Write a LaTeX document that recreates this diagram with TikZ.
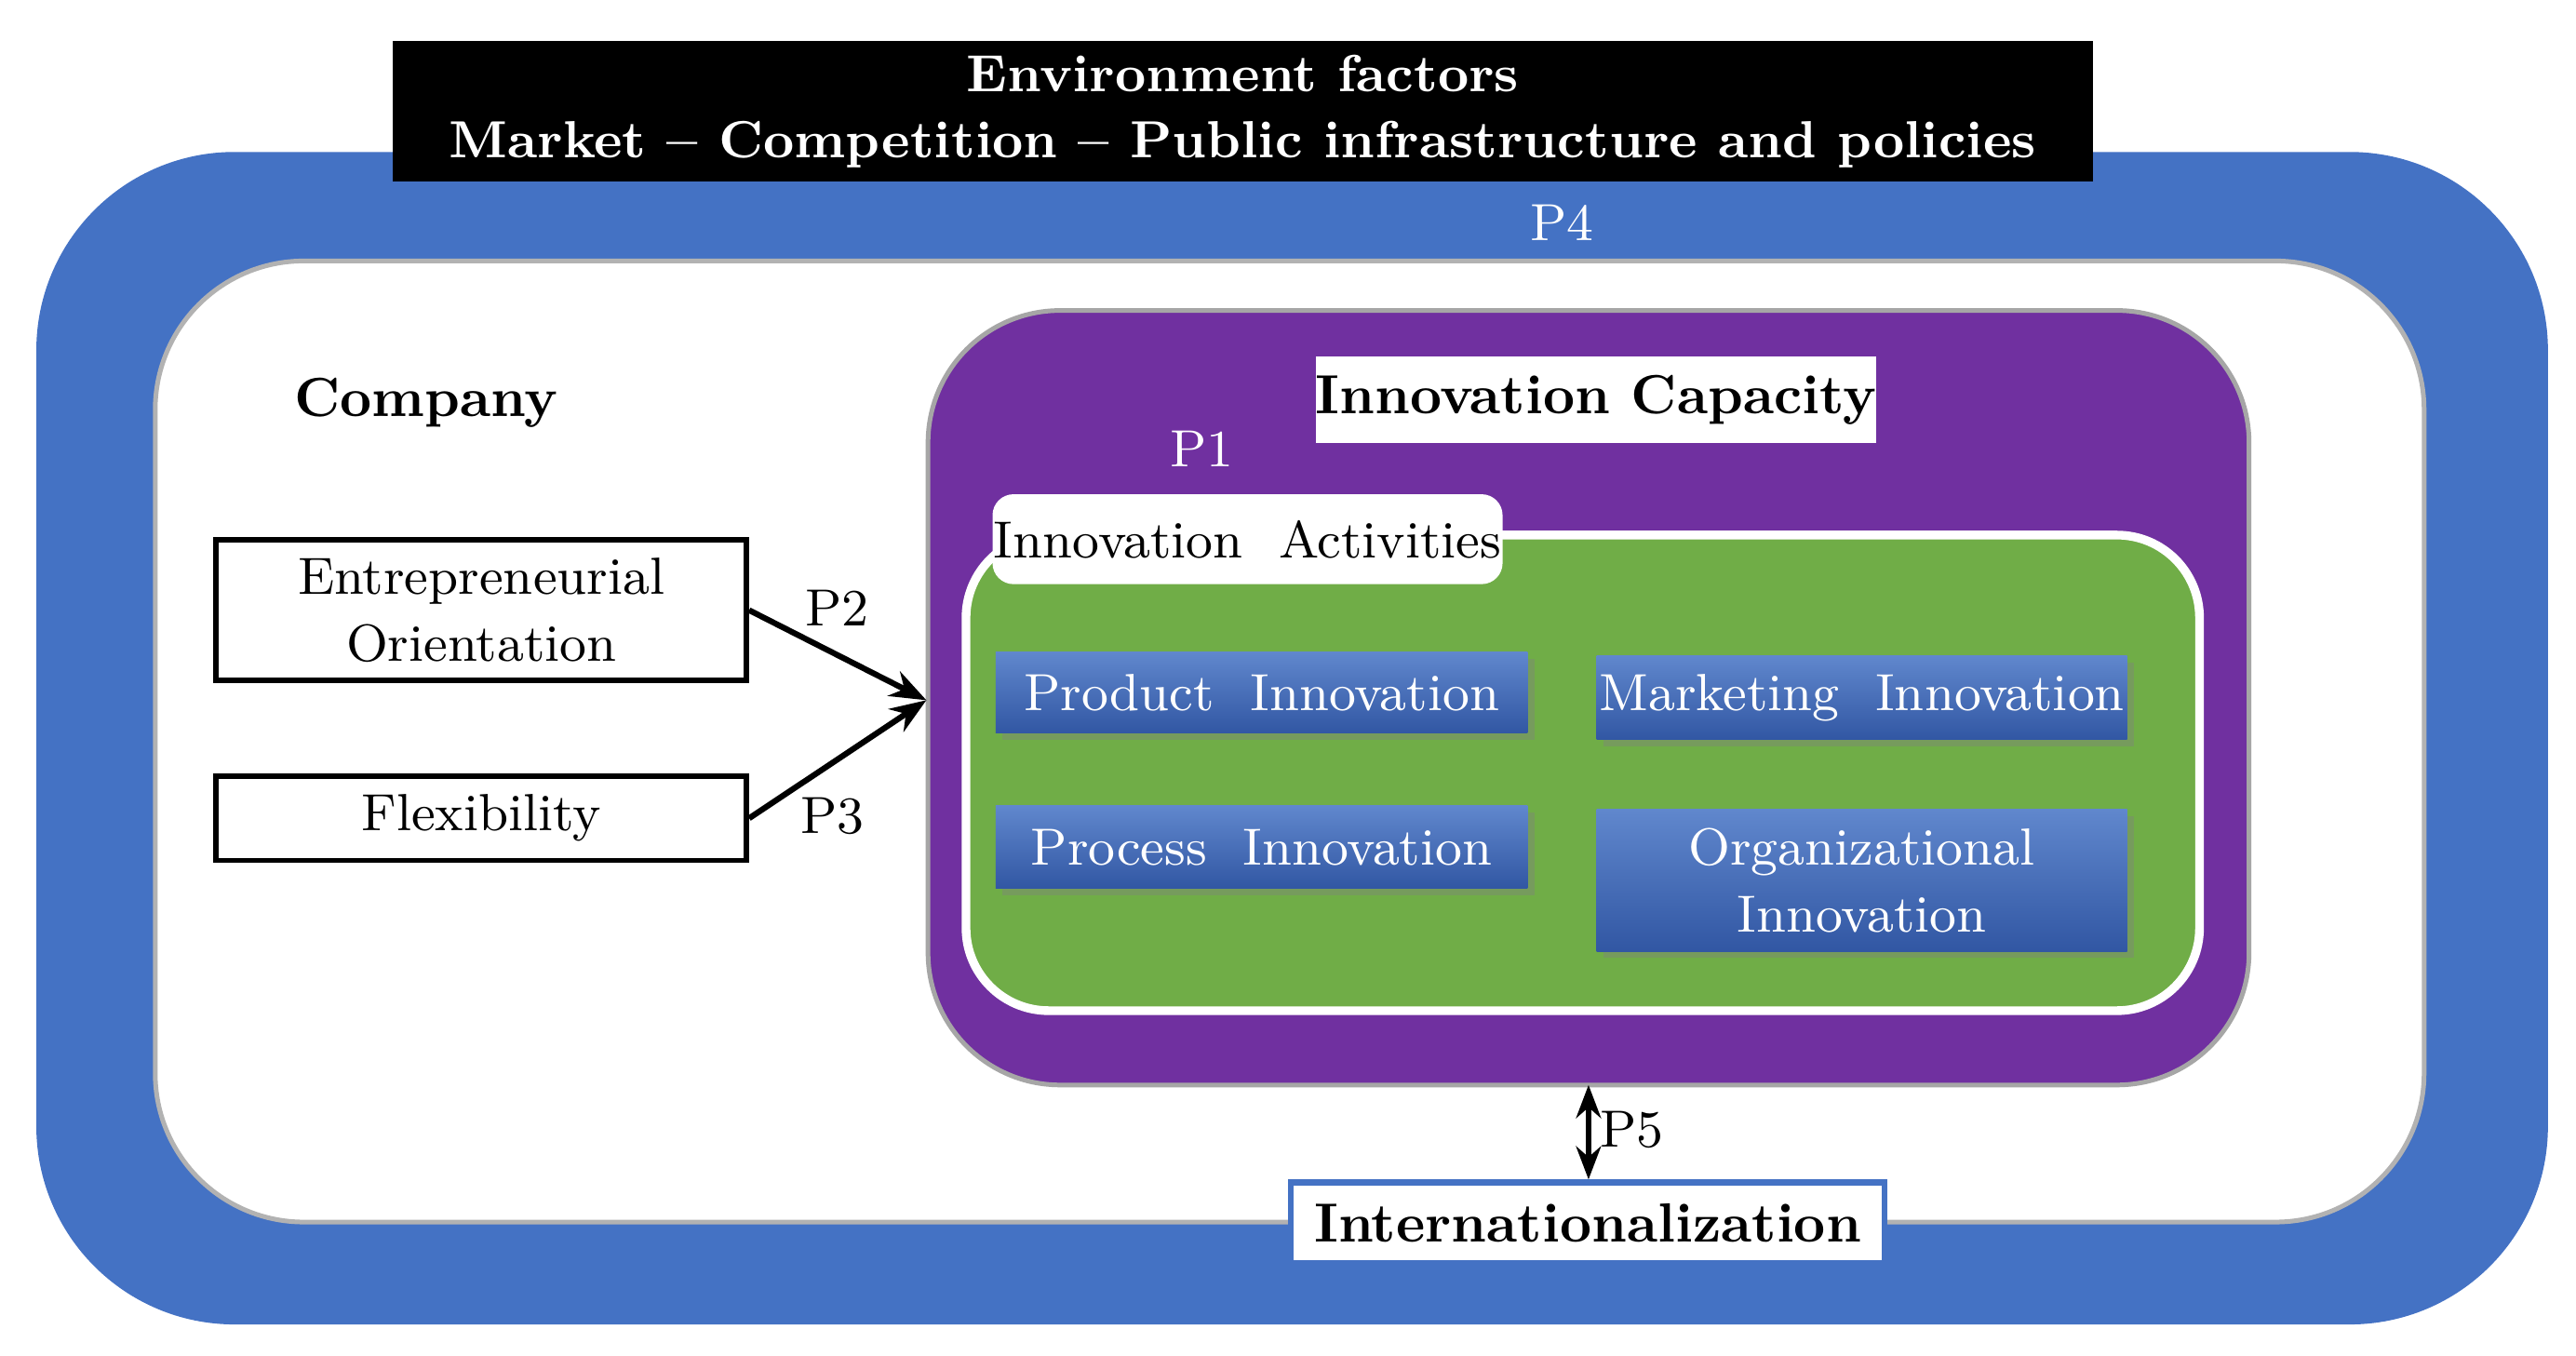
\documentclass[tikz,border=0pt]{standalone}
\usetikzlibrary{arrows.meta,shadows}
\definecolor{bluem}{HTML}{4472C4}
\definecolor{purp}{HTML}{7030A0}
\definecolor{grn}{HTML}{70AD47}
\definecolor{btn}{HTML}{3A66C0}
\tikzset{
 txt/.style={font=\fontsize{9}{10.5}\selectfont, align=center, inner sep=0pt},
 wbox/.style={txt, draw=black, line width=0.9pt, fill=white},
 btnbox/.style={txt, text=white, top color=bluem!85!white, bottom color=btn!85!black, draw=none, drop shadow={shadow xshift=0.4mm, shadow yshift=-0.4mm, opacity=0.4}},
 arr/.style={-{Stealth[length=2.2mm]}, line width=1pt},
}
\begin{document}
\begin{tikzpicture}[x=0.01cm,y=-0.01cm]
\useasboundingbox (0,0) rectangle (1560,820.6);
\draw[fill=bluem, draw=none, rounded corners=1.2cm] (22,92) rectangle (1543,802);
\draw[fill=white, draw=gray!60, line width=0.8pt, rounded corners=0.9cm] (94,158) rectangle (1468,740);
\node[txt, fill=black, text=white, font=\fontsize{9}{10.5}\selectfont\bfseries, minimum width=10.29cm, minimum height=0.85cm] (env) at (752.5,67.5) {Environment factors\\[1pt]Market -- Competition -- Public infrastructure and policies};
\node[txt, text=white] (p4) at (946,135) {P4};
\draw[fill=purp, draw=gray!70, line width=0.8pt, rounded corners=0.8cm] (562,188) rectangle (1362,657);
\node[txt, fill=white, font=\fontsize{9.5}{11}\selectfont\bfseries, minimum width=3.03cm, minimum height=0.52cm] (cap) at (966.5,242) {Innovation Capacity};
\node[txt, text=white] (p1) at (728,272) {P1};
\draw[fill=grn, draw=white, line width=1.5pt, rounded corners=0.5cm] (585,324) rectangle (1332,612);
\node[txt, fill=white, draw=white, rounded corners=0.12cm, minimum width=3.03cm, minimum height=0.53cm] (act) at (755.5,326.5) {Innovation\ \ Activities};
\node[btnbox, minimum width=3.22cm, minimum height=0.49cm] (prod) at (764,419.5) {Product\ \ Innovation};
\node[btnbox, minimum width=3.21cm, minimum height=0.51cm] (mkt) at (1127.5,422.5) {Marketing\ \ Innovation};
\node[btnbox, minimum width=3.22cm, minimum height=0.50cm] (proc) at (764,513) {Process\ \ Innovation};
\node[btnbox, minimum width=3.21cm, minimum height=0.86cm] (org) at (1127.5,533) {Organizational\\[1pt]Innovation};
\node[txt, font=\fontsize{9.5}{11}\selectfont\bfseries] (comp) at (258,244) {Company};
\node[wbox, minimum width=3.21cm, minimum height=0.85cm] (eo) at (291.5,369.5) {Entrepreneurial\\[1pt]Orientation};
\node[wbox, minimum width=3.21cm, minimum height=0.51cm] (flex) at (291.5,495.5) {Flexibility};
\coordinate (tgt) at (561,424);
\draw[arr] (eo.east) -- (tgt);
\draw[arr] (flex.east) -- (tgt);
\node[txt] (p2) at (507,368) {P2};
\node[txt] (p3) at (504,494) {P3};
\node[txt, fill=white, draw=bluem, line width=1pt, font=\fontsize{9.5}{11}\selectfont\bfseries, minimum width=3.59cm, minimum height=0.49cm] (intl) at (961.5,740.5) {Internationalization};
\coordinate (pb) at (962,657);
\draw[{Stealth[length=2mm]}-{Stealth[length=2mm]}, line width=1pt] (pb) -- (intl.north -| pb);
\node[txt] (p5) at (988,684) {P5};
\end{tikzpicture}
\end{document}
